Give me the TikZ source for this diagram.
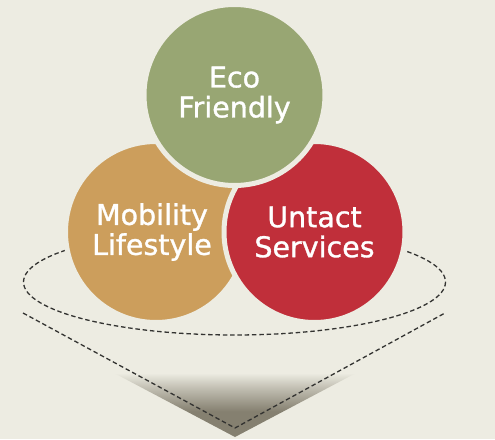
\documentclass[tikz,border=0pt]{standalone}
\usepackage{fontspec}
\setmainfont{DejaVu Sans}
\newfontfamily\bubblefont{DejaVu Sans}[FakeBold=1.1]

\definecolor{BgBeige}{HTML}{EDECE2}
\definecolor{EcoGreen}{HTML}{98A673}
\definecolor{MobOrange}{HTML}{CC9E5C}
\definecolor{UntactRed}{HTML}{C02F3A}
\definecolor{ConeGray}{HTML}{858070}
\definecolor{DashGray}{HTML}{333331}

% tikz maps the path's box onto 25bp..75bp of the shading
\pgfdeclareverticalshading{conefade}{100bp}{color(0bp)=(ConeGray); color(25bp)=(ConeGray); color(45bp)=(ConeGray); color(64bp)=(ConeGray!40!BgBeige); color(75bp)=(BgBeige); color(100bp)=(BgBeige)}

\tikzset{
  bubble/.style={circle, minimum size=181pt, inner sep=0pt, draw=BgBeige, line width=5pt,
    text=white, align=center, font=\bubblefont\fontsize{28.5}{30}\selectfont},
  funnel/.style={DashGray, line width=1.3pt, dash pattern=on 4.5pt off 2.8pt}
}

\begin{document}
\begin{tikzpicture}[x=1pt,y=-1pt]
\fill[BgBeige] (0,0) rectangle (495,439);
\useasboundingbox (0,0) rectangle (495,439);

% shadow under the funnel tip
\shade[shading=conefade] (114,373) -- (356,373) -- (235,437) -- cycle;

% funnel rim and sides
\draw[funnel] (234.5,282) ellipse [x radius=211, y radius=53];
\coordinate (rimL) at (23,313);
\coordinate (rimR) at (445,313);
\coordinate (tip) at (235,428);
\draw[funnel] (rimL) -- (tip) -- (rimR);

\node[bubble, fill=MobOrange] (mobility) at (156,232) {Mobility\hspace*{8pt}\\Lifestyle\hspace*{8pt}};
\node[bubble, fill=UntactRed] (untact) at (314.5,232) {Untact\\Services};
\node[bubble, fill=EcoGreen] (eco) at (234.5,95) {Eco\\Friendly};

\end{tikzpicture}
\end{document}
